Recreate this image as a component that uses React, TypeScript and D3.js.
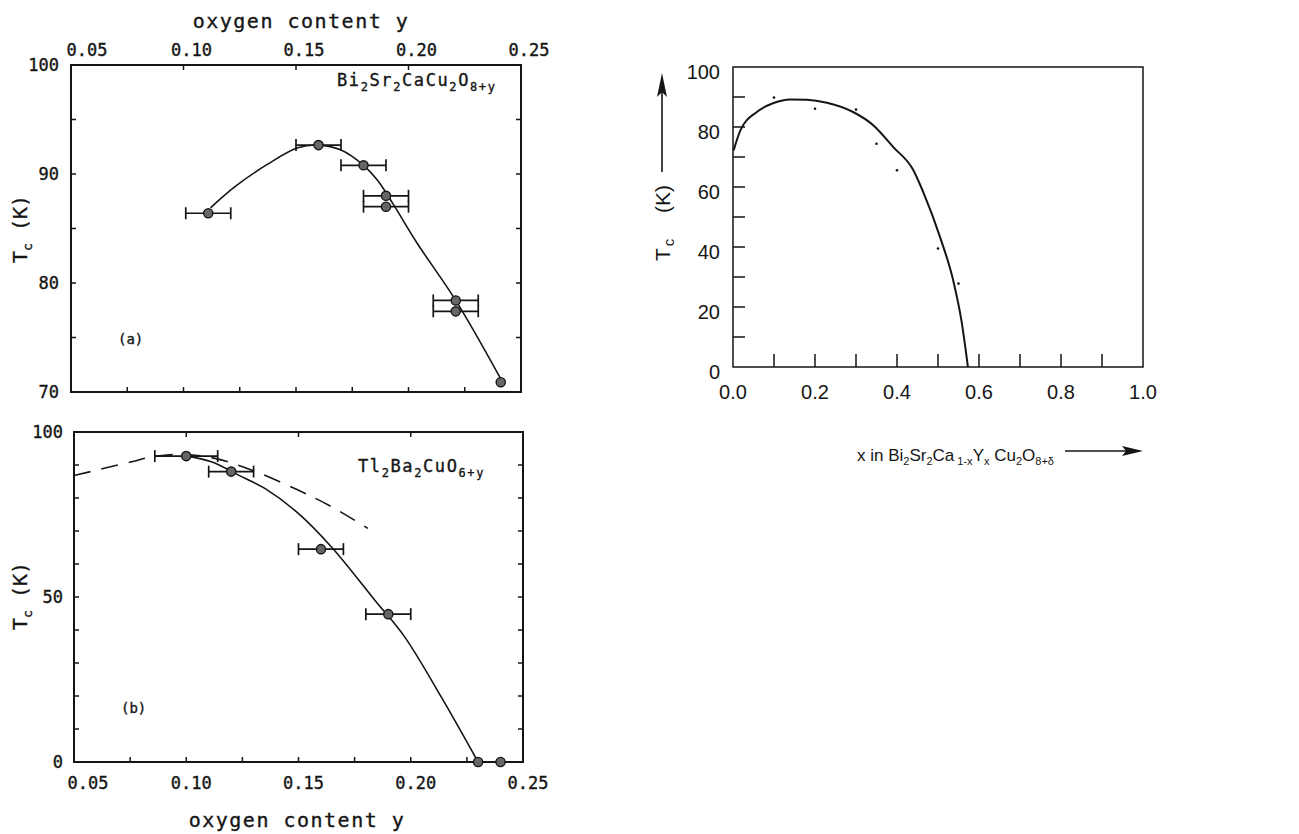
import React from "react";
import * as d3 from "d3";

const MONO = "'DejaVu Sans Mono', 'Liberation Mono', monospace";
const SANS = "'Liberation Sans', Arial, Helvetica, sans-serif";
const INK = "#151515";

// (a) Bi2Sr2CaCu2O8+y: Tc against oxygen content y
const BI_OXY = [0.111, 0.16, 0.18, 0.19, 0.19, 0.221, 0.221, 0.241];
const BI_TC = [86.4, 92.65, 90.8, 88.0, 87.0, 78.4, 77.4, 70.9];
const BI_ERR = [0.01, 0.01, 0.01, 0.01, 0.01, 0.01, 0.01, 0];
const BI_FIT_OXY = [0.112, 0.1226, 0.1374, 0.1508, 0.16, 0.17, 0.18, 0.1863, 0.193, 0.204, 0.221, 0.241];
const BI_FIT_TC = [86.9, 88.8, 90.9, 92.4, 92.65, 92.2, 90.8, 89.4, 87.3, 83.6, 78.4, 71.2];

// (b) Tl2Ba2CuO6+y
const TL_OXY = [0.1, 0.12, 0.16, 0.19, 0.23, 0.24];
const TL_TC = [92.7, 88.0, 64.5, 44.8, 0, 0];
const TL_ERR = [0.014, 0.01, 0.01, 0.01, 0, 0];
const TL_FIT_OXY = [0.1, 0.1112, 0.1231, 0.135, 0.1498, 0.1646, 0.1839, 0.1972, 0.2135, 0.23];
const TL_FIT_TC = [92.7, 91.0, 87.0, 82.9, 75.4, 65.2, 49.1, 38.0, 19.8, 0];
const TL_DASH_OXY = [0.05, 0.0757, 0.085, 0.099, 0.1128, 0.129, 0.1498, 0.1646, 0.1809];
const TL_DASH_TC = [86.8, 91.0, 92.5, 93.2, 92.0, 88.5, 82.4, 77.4, 70.8];

// Bi2Sr2Ca1-xYxCu2O8+δ: Tc against Y content x
const Y_X = [0.1, 0.2, 0.3, 0.35, 0.4, 0.5, 0.55];
const Y_TC = [89.8, 86.1, 85.8, 74.4, 65.6, 39.5, 27.8];
const Y_FIT_X = [0.0015, 0.018, 0.058, 0.099, 0.139, 0.18, 0.229, 0.293, 0.342, 0.391, 0.44, 0.464, 0.505, 0.537, 0.557, 0.573];
const Y_FIT_TC = [72.2, 78.9, 85, 88, 89.2, 89.1, 88.1, 85, 80.6, 73.3, 65.6, 58.3, 43.3, 28.9, 15.6, 0];

// Tick labels
const OXY_LABELS = ["0.05", "0.10", "0.15", "0.20", "0.25"];
const A_TC_LABELS = ["70", "80", "90", "100"];
const B_TC_LABELS = ["0", "50", "100"];
const R_X_LABELS = ["0.0", "0.2", "0.4", "0.6", "0.8", "1.0"];
const R_TC_LABELS = ["0", "20", "40", "60", "80", "100"];

// Formula segments: [text, isSubscript]
const BI_FORMULA: [string, boolean][] = [["Bi", false], ["2", true], ["Sr", false], ["2", true], ["CaCu", false], ["2", true], ["O", false], ["8+y", true]];
const TL_FORMULA: [string, boolean][] = [["Tl", false], ["2", true], ["Ba", false], ["2", true], ["CuO", false], ["6+y", true]];
const X_FORMULA: [string, boolean][] = [["x in Bi", false], ["2", true], ["Sr", false], ["2", true], ["Ca", false], [" 1-x", true], ["Y", false], ["x", true], [" Cu", false], ["2", true], ["O", false], ["8+δ", true]];

type Pt = [number, number];
const pairs = (xs: number[], ys: number[]): Pt[] => xs.map((x, i) => [x, ys[i]] as Pt);

// slightly heavier strokes for the plotter-style lettering
const plotterText = { fill: INK, stroke: INK, strokeWidth: 0.35 };

function Formula({ parts, x, y, size, subSize, shift, family, spacing, heavy }: {
  parts: [string, boolean][]; x: number; y: number; size: number; subSize: number; shift: number; family: string; spacing: number; heavy?: boolean;
}) {
  let prevSub = false;
  return (
    <text x={x} y={y} fontFamily={family} fontSize={size} letterSpacing={spacing} {...(heavy ? plotterText : { fill: INK })} style={{ whiteSpace: "pre" }}>
      {parts.map(([t, sub], i) => {
        const dy = sub === prevSub ? 0 : sub ? shift : -shift;
        prevSub = sub;
        return (
          <tspan key={i} dy={dy} fontSize={sub ? subSize : size}>{t}</tspan>
        );
      })}
    </text>
  );
}

function ErrorBars({ xs, ys, errs, sx, sy }: { xs: number[]; ys: number[]; errs: number[]; sx: d3.ScaleLinear<number, number>; sy: d3.ScaleLinear<number, number> }) {
  return (
    <g stroke={INK} strokeWidth={1.7} fill="none">
      {xs.map((v, i) => {
        if (!errs[i]) return null;
        const y = sy(ys[i]);
        const x0 = sx(v - errs[i]);
        const x1 = sx(v + errs[i]);
        return (
          <g key={i}>
            <line x1={x0} x2={x1} y1={y} y2={y} />
            <line x1={x0} x2={x0} y1={y - 6} y2={y + 6} />
            <line x1={x1} x2={x1} y1={y - 6} y2={y + 6} />
          </g>
        );
      })}
    </g>
  );
}

function Dots({ xs, ys, sx, sy }: { xs: number[]; ys: number[]; sx: d3.ScaleLinear<number, number>; sy: d3.ScaleLinear<number, number> }) {
  return (
    <g>
      {xs.map((v, i) => (
        <circle key={i} cx={sx(v)} cy={sy(ys[i])} r={4.6} fill="#666" stroke={INK} strokeWidth={1.4} />
      ))}
    </g>
  );
}

export default function App() {
  // scales of the three panels
  const xa = d3.scaleLinear().domain([0.05, 0.25]).range([71, 521]);
  const ya = d3.scaleLinear().domain([70, 100]).range([392, 65]);
  const xb = d3.scaleLinear().domain([0.05, 0.25]).range([74, 523]);
  const yb = d3.scaleLinear().domain([0, 100]).range([762, 432]);
  const xr = d3.scaleLinear().domain([0, 1]).range([733, 1143]);
  const yr = d3.scaleLinear().domain([0, 100]).range([367, 67]);

  const smooth = (sx: d3.ScaleLinear<number, number>, sy: d3.ScaleLinear<number, number>, curve: d3.CurveFactory = d3.curveCatmullRom.alpha(0.5)) =>
    d3.line<Pt>().x((d) => sx(d[0])).y((d) => sy(d[1])).curve(curve);

  const fitA = smooth(xa, ya)(pairs(BI_FIT_OXY, BI_FIT_TC)) || "";
  const fitB = smooth(xb, yb)(pairs(TL_FIT_OXY, TL_FIT_TC)) || "";
  const dashB = smooth(xb, yb)(pairs(TL_DASH_OXY, TL_DASH_TC)) || "";
  const fitR = smooth(xr, yr, d3.curveMonotoneX)(pairs(Y_FIT_X, Y_FIT_TC)) || "";

  const quarterTicks = d3.range(1, 8).map((i) => 0.05 + i * 0.025);
  const topTicks = [0.1, 0.15, 0.2];
  const aYTicks = d3.range(1, 6).map((i) => 70 + i * 5);
  const bYTicks = d3.range(1, 10).map((i) => i * 10);
  const rYTicks = d3.range(1, 10).map((i) => i * 10);
  const rXTicks = d3.range(1, 10).map((i) => i / 10);

  const [ax0, ax1] = xa.range();
  const [ay1, ay0] = ya.range();
  const [bx0, bx1] = xb.range();
  const [by1, by0] = yb.range();
  const [rx0, rx1] = xr.range();
  const [ry1, ry0] = yr.range();

  return (
    <svg width={1299} height={834} viewBox="0 0 1299 834" style={{ position: "absolute", left: 0, top: 0, background: "#fff" }}>
      <rect width={1299} height={834} fill="#fff" />

      {/* ---------- panel (a) ---------- */}
      <text x={301} y={28} textAnchor="middle" fontFamily={MONO} fontSize={20} letterSpacing={1.5} {...plotterText}>oxygen content y</text>
      {OXY_LABELS.map((l, i) => (
        <text key={l} x={xa(+l) + (i === 0 ? 16 : 8)} y={56} textAnchor="middle" fontFamily={MONO} fontSize={17} {...plotterText}>{l}</text>
      ))}
      {A_TC_LABELS.map((l) => (
        <text key={l} x={59} y={ya(+l) + 6} textAnchor="end" fontFamily={MONO} fontSize={17} {...plotterText}>{l}</text>
      ))}
      <g transform="translate(27,229) rotate(-90)">
        <text textAnchor="middle" fontFamily={MONO} fontSize={20} {...plotterText} style={{ whiteSpace: "pre" }}>
          T<tspan fontSize={13} dy={5}>c</tspan><tspan dy={-5}> (K)</tspan>
        </text>
      </g>
      <rect x={ax0} y={ay0} width={ax1 - ax0} height={ay1 - ay0} fill="none" stroke={INK} strokeWidth={2} />
      <g stroke={INK} strokeWidth={1.5}>
        {aYTicks.map((t) => (
          <g key={t}>
            <line x1={ax0} x2={ax0 + 5} y1={ya(t)} y2={ya(t)} />
            <line x1={ax1} x2={ax1 - 5} y1={ya(t)} y2={ya(t)} />
          </g>
        ))}
        {quarterTicks.map((t) => (
          <line key={t} x1={xa(t)} x2={xa(t)} y1={ay1} y2={ay1 - 5} />
        ))}
        {topTicks.map((t) => (
          <line key={t} x1={xa(t)} x2={xa(t)} y1={ay0} y2={ay0 + 5} />
        ))}
      </g>
      <Formula parts={BI_FORMULA} x={337} y={86} size={17} subSize={12} shift={5} family={MONO} spacing={1.6} heavy />
      <text x={118} y={344} fontFamily={MONO} fontSize={14} {...plotterText}>(a)</text>
      <path d={fitA} fill="none" stroke={INK} strokeWidth={1.6} />
      <ErrorBars xs={BI_OXY} ys={BI_TC} errs={BI_ERR} sx={xa} sy={ya} />
      <Dots xs={BI_OXY} ys={BI_TC} sx={xa} sy={ya} />

      {/* ---------- panel (b) ---------- */}
      {B_TC_LABELS.map((l) => (
        <text key={l} x={63} y={yb(+l) + 6} textAnchor="end" fontFamily={MONO} fontSize={17} {...plotterText}>{l}</text>
      ))}
      {OXY_LABELS.map((l, i) => (
        <text key={l} x={xb(+l) + (i === 0 ? 14 : 5)} y={789} textAnchor="middle" fontFamily={MONO} fontSize={17} {...plotterText}>{l}</text>
      ))}
      <text x={297} y={827} textAnchor="middle" fontFamily={MONO} fontSize={20} letterSpacing={1.5} {...plotterText}>oxygen content y</text>
      <g transform="translate(27,596) rotate(-90)">
        <text textAnchor="middle" fontFamily={MONO} fontSize={20} {...plotterText} style={{ whiteSpace: "pre" }}>
          T<tspan fontSize={13} dy={5}>c</tspan><tspan dy={-5}> (K)</tspan>
        </text>
      </g>
      <rect x={bx0} y={by0} width={bx1 - bx0} height={by1 - by0} fill="none" stroke={INK} strokeWidth={2} />
      <g stroke={INK} strokeWidth={1.5}>
        {bYTicks.map((t) => (
          <g key={t}>
            <line x1={bx0} x2={bx0 + 5} y1={yb(t)} y2={yb(t)} />
            <line x1={bx1} x2={bx1 - 5} y1={yb(t)} y2={yb(t)} />
          </g>
        ))}
        {quarterTicks.map((t) => (
          <line key={t} x1={xb(t)} x2={xb(t)} y1={by1} y2={by1 - 5} />
        ))}
        {topTicks.map((t) => (
          <line key={t} x1={xb(t)} x2={xb(t)} y1={by0} y2={by0 + 5} />
        ))}
      </g>
      <Formula parts={TL_FORMULA} x={358} y={472} size={17} subSize={12} shift={5} family={MONO} spacing={1.6} heavy />
      <text x={121} y={713} fontFamily={MONO} fontSize={14} {...plotterText}>(b)</text>
      <path d={dashB} fill="none" stroke={INK} strokeWidth={1.6} strokeDasharray="17 11" />
      <path d={fitB} fill="none" stroke={INK} strokeWidth={1.6} />
      <ErrorBars xs={TL_OXY} ys={TL_TC} errs={TL_ERR} sx={xb} sy={yb} />
      <Dots xs={TL_OXY} ys={TL_TC} sx={xb} sy={yb} />

      {/* ---------- Y-substitution panel ---------- */}
      <rect x={rx0} y={ry0} width={rx1 - rx0} height={ry1 - ry0} fill="none" stroke={INK} strokeWidth={1.5} />
      <g stroke={INK} strokeWidth={1.5}>
        {rYTicks.map((t) => (
          <line key={t} x1={rx0} x2={rx0 + 12} y1={yr(t)} y2={yr(t)} />
        ))}
        {rXTicks.map((t) => (
          <line key={t} x1={xr(t)} x2={xr(t)} y1={ry1} y2={ry1 - 13} />
        ))}
      </g>
      {R_TC_LABELS.map((l) => (
        <text key={l} x={720} y={yr(+l) + 12} textAnchor="end" fontFamily={SANS} fontSize={20} fill={INK}>{l}</text>
      ))}
      {R_X_LABELS.map((l) => (
        <text key={l} x={xr(+l)} y={399} textAnchor="middle" fontFamily={SANS} fontSize={20} fill={INK}>{l}</text>
      ))}
      <path d={fitR} fill="none" stroke={INK} strokeWidth={2} />
      <g fill={INK}>
        {Y_X.map((v, i) => (
          <circle key={i} cx={xr(v)} cy={yr(Y_TC[i])} r={1.3} />
        ))}
      </g>
      <g transform="translate(670,261) rotate(-90)">
        <text fontFamily={SANS} fontSize={21} fill={INK}>
          T<tspan fontSize={15} dx={2} dy={4}>c</tspan>
        </text>
        <text x={48} fontFamily={SANS} fontSize={21} fill={INK}>(K)</text>
      </g>
      <line x1={662} x2={662} y1={172} y2={88} stroke={INK} strokeWidth={1.6} />
      <path d="M662,73 L657,97 L662,92 L667,97 Z" fill={INK} />
      <Formula parts={X_FORMULA} x={857} y={461} size={17} subSize={11} shift={4} family={SANS} spacing={0} />
      <line x1={1065} x2={1128} y1={451} y2={451} stroke={INK} strokeWidth={1.6} />
      <path d="M1143,451 L1122,446 L1126,451 L1122,456 Z" fill={INK} />
    </svg>
  );
}
